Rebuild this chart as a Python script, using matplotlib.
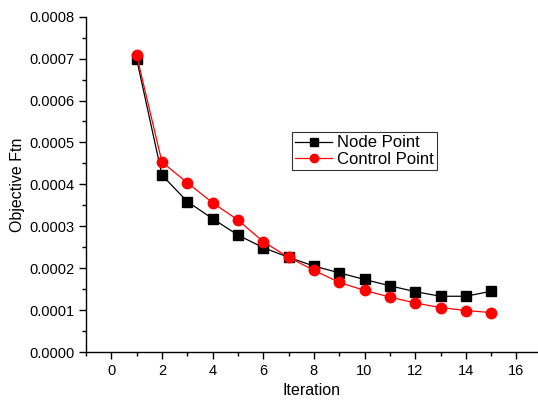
import matplotlib.pyplot as plt
from matplotlib.ticker import MultipleLocator, FormatStrFormatter

plt.rcParams['font.family'] = ['Liberation Sans', 'DejaVu Sans']

iteration = [1, 2, 3, 4, 5, 6, 7, 8, 9, 10, 11, 12, 13, 14, 15]
node_point = [0.000699, 0.000422, 0.000359, 0.000318, 0.000279, 0.000249, 0.000226,
              0.000205, 0.000189, 0.000173, 0.000158, 0.000144, 0.000133, 0.000133, 0.000145]
control_point = [0.000708, 0.000453, 0.000404, 0.000356, 0.000315, 0.000263, 0.000226,
                 0.000195, 0.000166, 0.000147, 0.000131, 0.000117, 0.000106, 0.000099, 0.000094]

fig = plt.figure(figsize=(5.38, 4.03), dpi=100)
ax = fig.add_axes([86 / 538, 1 - 352 / 403, (538 - 86) / 538, (352 - 16.7) / 403])

ax.plot(iteration, node_point, color='black', marker='s', markersize=6.5, lw=0.9, label='Node Point')
ax.plot(iteration, control_point, color='red', marker='o', markersize=7.5, lw=0.9, label='Control Point')

ax.set_xlim(-1, 16.85)
ax.set_ylim(0, 0.0008)
ax.xaxis.set_major_locator(MultipleLocator(2))
ax.xaxis.set_minor_locator(MultipleLocator(1))
ax.yaxis.set_major_locator(MultipleLocator(0.0001))
ax.yaxis.set_minor_locator(MultipleLocator(0.00005))
ax.yaxis.set_major_formatter(FormatStrFormatter('%.4f'))
ax.tick_params(which='major', direction='out', length=5, width=1, labelsize=10.5)
ax.tick_params(which='minor', direction='out', length=3, width=1)

for side in ['top', 'right']:
    ax.spines[side].set_visible(False)
for side in ['left', 'bottom']:
    ax.spines[side].set_linewidth(1)

ax.set_xlabel('Iteration', fontsize=11.5, labelpad=4)
ax.set_ylabel('Objective Ftn', fontsize=11.5, labelpad=3)

leg = ax.legend(loc='upper left', bbox_to_anchor=((292 - 86) / 452, (352 - 132) / 335.3),
                fontsize=12, frameon=True, fancybox=False, edgecolor='black',
                borderpad=0.2, handlelength=2.2, handletextpad=0.3, labelspacing=0.1,
                borderaxespad=0, markerscale=0.8)
leg.get_frame().set_linewidth(0.8)

fig.savefig('out.png', dpi=100)
